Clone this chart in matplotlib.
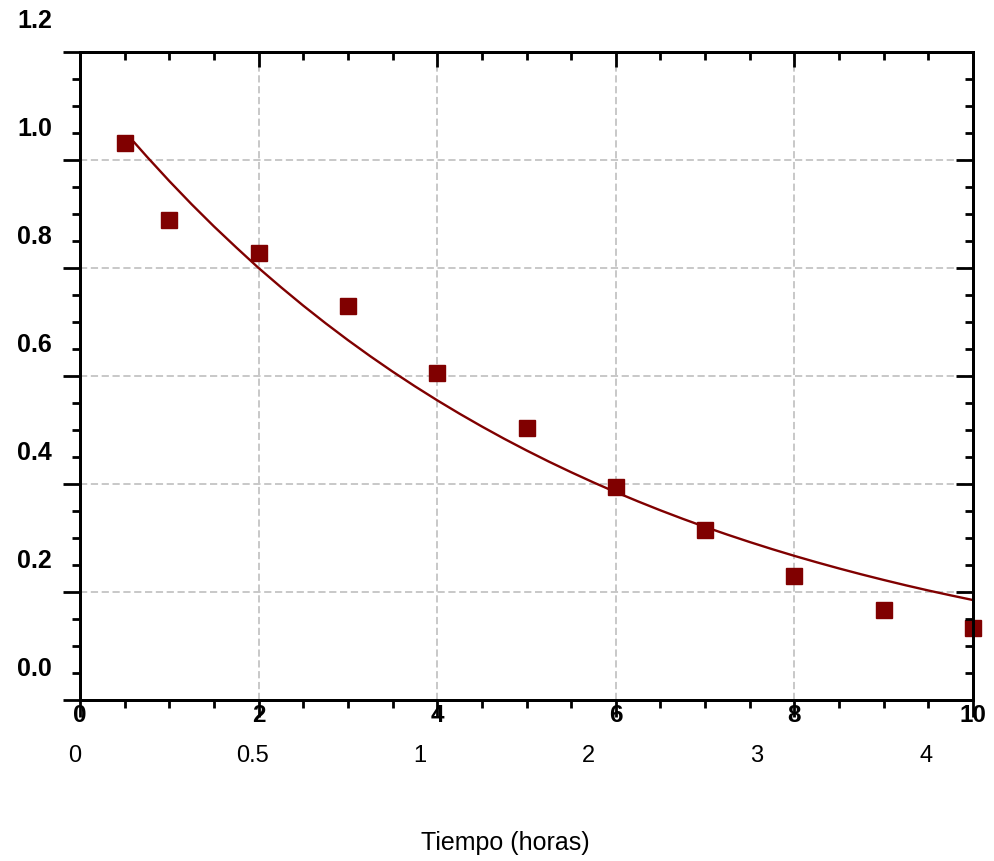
import matplotlib
matplotlib.use("Agg")
import matplotlib.pyplot as plt
from matplotlib.ticker import MultipleLocator

plt.rcParams['font.family'] = ['Liberation Sans', 'DejaVu Sans']

# ---- data ----
time_h = [0.5, 1, 2, 3, 4, 5, 6, 7, 8, 9, 10]
conc = [1.031, 0.889, 0.828, 0.730, 0.606, 0.504, 0.394, 0.315, 0.230, 0.167, 0.133]

# fitted curve, read densely along its trace
curve_x = [0.6, 0.75, 1.0, 1.25, 1.5, 1.75, 2.0, 2.25, 2.5, 2.75, 3.0, 3.25, 3.5,
           3.75, 4.0, 4.25, 4.5, 4.75, 5.0, 5.25, 5.5, 5.75, 6.0, 6.25, 6.5, 6.75,
           7.0, 7.25, 7.5, 7.75, 8.0, 8.25, 8.5, 8.75, 9.0, 9.25, 9.5, 9.75, 10.0]
curve_y = [1.034, 1.006, 0.961, 0.918, 0.877, 0.838, 0.800, 0.7645, 0.7303, 0.6977,
           0.6665, 0.6367, 0.6082, 0.5810, 0.5550, 0.5302, 0.5065, 0.4838, 0.4622,
           0.4415, 0.4218, 0.4029, 0.3849, 0.3677, 0.3512, 0.3355, 0.3205, 0.3062,
           0.2925, 0.2794, 0.2669, 0.2550, 0.2436, 0.2327, 0.2223, 0.2123, 0.2028,
           0.1938, 0.1851]

y_tick_vals = [0.0, 0.2, 0.4, 0.6, 0.8, 1.0, 1.2]
y_tick_labels = ["0.0", "0.2", "0.4", "0.6", "0.8", "1.0", "1.2"]
x_tick_vals = [0, 2, 4, 6, 8, 10]
x_tick_labels = ["0", "2", "4", "6", "8", "10"]
second_row_labels = ["0", "0.5", "1", "2", "3", "4"]
second_row_pos = [-0.056, 1.937, 3.807, 5.689, 7.581, 9.474]  # placement along x

xlabel = "Tiempo (horas)"
color = "#800000"

fig = plt.figure(figsize=(9.94, 8.61), dpi=100)
rect = [80/994, 1-700/861, (973-80)/994, (700-52)/861]
ax = fig.add_axes(rect)
ax.set_xlim(0, 10)
ax.set_ylim(0, 1.2)

ax.grid(which='major', color='#c4c4c4', ls=(0, (4, 2)), lw=1.3, zorder=0)
ax.plot(curve_x, curve_y, color=color, lw=1.7, zorder=3, clip_on=False,
        solid_joinstyle='round', solid_capstyle='round')
ax.plot(time_h, conc, ls='none', marker='s', ms=11.5, color=color,
        mec=color, zorder=4, clip_on=False)

for s in ax.spines.values():
    s.set_linewidth(2)

ax.xaxis.set_minor_locator(MultipleLocator(0.5))
ax.yaxis.set_minor_locator(MultipleLocator(0.05))
ax.set_xticks(x_tick_vals)
ax.set_xticklabels(x_tick_labels, fontsize=17.5, fontweight='bold')
ax.set_yticks(y_tick_vals)
ax.set_yticklabels([])
ax.tick_params(axis='both', which='major', direction='out', length=12, width=2)
ax.tick_params(axis='both', which='minor', direction='out', length=6, width=2)
ax.tick_params(axis='x', which='major', pad=-9)

# top axis with inward ticks (twin shares the y axis -> don't touch y)
axt = ax.twiny()
axt.set_xlim(ax.get_xlim())
axt.set_xticks(x_tick_vals)
axt.xaxis.set_minor_locator(MultipleLocator(0.5))
axt.tick_params(axis='x', which='major', direction='in', length=11, width=2,
                top=True, bottom=False, labeltop=False, labelbottom=False)
axt.tick_params(axis='x', which='minor', direction='in', length=6, width=2,
                top=True, bottom=False)
for s in axt.spines.values():
    s.set_linewidth(2)

# right axis with inward ticks (twin shares the x axis -> don't touch x)
axr = ax.twinx()
axr.set_ylim(ax.get_ylim())
axr.set_yticks(y_tick_vals)
axr.yaxis.set_minor_locator(MultipleLocator(0.05))
axr.tick_params(axis='y', which='major', direction='in', length=12, width=2,
                right=True, left=False, labelright=False, labelleft=False)
axr.tick_params(axis='y', which='minor', direction='in', length=6, width=2,
                right=True, left=False)
for s in axr.spines.values():
    s.set_linewidth(2)

# y labels (shifted upward relative to their ticks, as in the reference)
for v, lab in zip(y_tick_vals, y_tick_labels):
    ax.annotate(lab, xy=(0, v), xycoords=ax.get_yaxis_transform(),
                xytext=(-28*0.72, 31*0.72), textcoords='offset points',
                ha='right', va='center', fontsize=18, fontweight='bold',
                annotation_clip=False)

# second row of x labels
for p, lab in zip(second_row_pos, second_row_labels):
    ax.annotate(lab, xy=(p, 0), xycoords=ax.get_xaxis_transform(),
                xytext=(0, -56*0.72), textcoords='offset points',
                ha='center', va='center', fontsize=17, annotation_clip=False)

fig.text(505/994, 1-843/861, xlabel, ha='center', va='center', fontsize=18)

fig.savefig("out.png", dpi=100, facecolor='white')
